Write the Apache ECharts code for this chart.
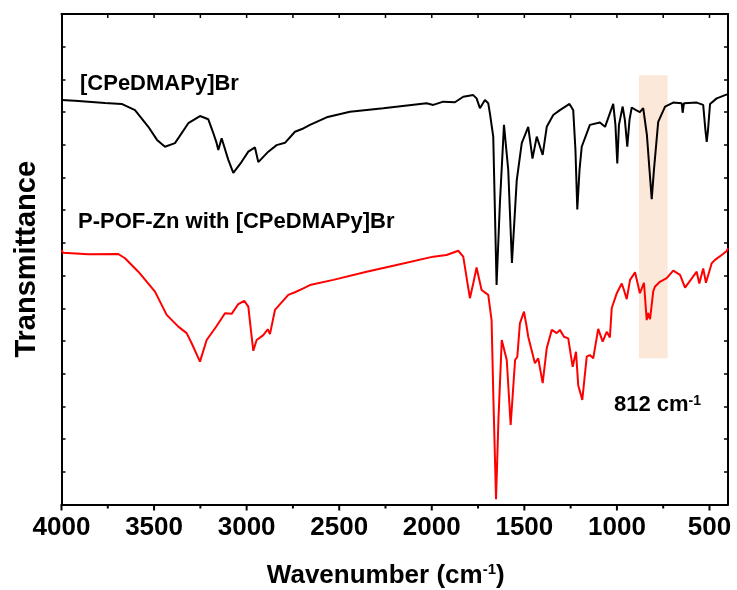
<!DOCTYPE html>
<html>
<head>
<meta charset="utf-8">
<script src="https://cdn.jsdelivr.net/npm/echarts@6/dist/echarts.min.js"></script>
<style>html,body{margin:0;padding:0;background:#fff;}#c{width:737px;height:590px;}</style>
</head>
<body>
<div id="c"></div>
<script>
// ---- data ----
// x axis runs from 4000 (left) to 400 cm-1 (right)
const xAxisStart = 4000, xAxisEnd = 400;
const xMajorTicks = [4000, 3500, 3000, 2500, 2000, 1500, 1000, 500];
const xMinorTicks = [3750, 3250, 2750, 2250, 1750, 1250, 750];
const xTopTicks = [3750, 3500, 3250, 3000, 2750, 2500, 2250, 2000, 1750, 1500, 1250, 1000, 750, 500];

const blackWavenumber = [4000,3927,3855,3765,3675,3603,3531,3484,3441,3387,3315,3252,3207,3182,3162,3153,3135,3099,3072,3027,2991,2955,2937,2883,2838,2793,2739,2694,2658,2568,2442,2262,2028,1992,1938,1875,1830,1776,1758,1740,1713,1695,1686,1668,1650,1632,1610,1587,1567,1541,1514,1479,1456,1433,1401,1379,1344,1308,1256,1236,1224,1214,1202,1190,1146,1092,1064,1020,1008,998,989,969,957,944,932,920,897,876,858,838,824,812,800,777,740,696,650,645,638,569,534,522,515,508,497,461,416,400];
const blackTransmittance = [12.37,12.35,12.32,12.28,12.25,12.06,11.55,11.15,10.94,11.05,11.66,11.88,11.78,11.39,11.05,10.84,11.20,10.54,10.14,10.48,10.79,10.92,10.47,10.79,10.99,11.06,11.40,11.50,11.61,11.84,12.01,12.12,12.27,12.22,12.32,12.30,12.47,12.52,12.42,12.12,12.37,12.27,11.96,11.25,6.71,9.22,11.61,10.23,7.39,9.92,11.05,11.55,10.58,11.25,10.69,11.55,11.91,12.06,12.25,12.06,10.84,9.02,10.23,10.94,11.61,11.68,11.55,12.25,11.61,10.43,11.61,12.17,11.76,10.94,11.76,12.14,12.06,12.00,12.12,11.30,10.23,9.34,10.23,11.70,12.17,12.29,12.27,11.98,12.27,12.29,12.22,11.45,11.09,11.45,12.25,12.42,12.52,12.55];

const redWavenumber = [4000,3992,3855,3693,3657,3585,3495,3432,3369,3324,3297,3252,3216,3162,3117,3081,3045,3013,2991,2977,2964,2946,2910,2886,2874,2847,2775,2739,2694,2658,2532,2352,2172,1992,1920,1857,1830,1810,1794,1778,1758,1731,1695,1677,1667,1653,1640,1622,1595,1574,1561,1550,1538,1524,1502,1489,1479,1443,1425,1401,1379,1352,1325,1308,1286,1263,1239,1221,1209,1187,1163,1146,1128,1101,1077,1055,1038,1028,1000,974,962,947,929,902,876,854,839,832,821,804,795,768,731,696,659,632,569,555,534,519,488,470,434,407,400];
const redTransmittance = [7.78,7.70,7.65,7.66,7.53,7.12,6.51,5.80,5.44,5.24,4.93,4.37,5.03,5.46,5.85,5.83,6.13,6.23,6.05,5.34,4.70,5.03,5.18,5.36,5.21,5.95,6.41,6.49,6.61,6.71,6.87,7.12,7.35,7.58,7.63,7.76,7.58,6.87,6.31,6.71,7.25,6.56,6.41,5.64,3.20,0.16,2.58,5.03,4.42,2.43,3.50,4.42,4.52,5.54,5.90,5.49,5.13,4.32,4.47,3.71,4.78,5.34,5.24,5.34,5.13,5.08,4.21,4.67,3.65,3.20,4.52,4.57,4.47,5.37,4.98,5.28,5.11,6.01,6.47,6.76,6.56,6.28,6.87,7.10,6.46,6.78,5.64,5.86,5.67,6.51,6.66,6.81,6.92,7.15,7.02,6.63,7.12,6.76,7.22,6.78,7.38,7.48,7.63,7.75,7.84];

const bandWavenumber = [881, 726];
const bandTransmittance = [4.47, 13.13];

const labelBlack = '[CPeDMAPy]Br';
const labelRed = 'P-POF-Zn with [CPeDMAPy]Br';
const peakLabel = '812 cm';

// ---- chart ----
// The descending wavenumber axis is drawn as a value axis over -wavenumber;
// labels show the absolute value.
const FONT = "'Liberation Sans', Arial, sans-serif";
const Y_MIN = 0, Y_MAX = 15;
const toAxis = w => -w;
const pair = (xs, ys) => xs.map((x, i) => [toAxis(x), ys[i]]);
const fromAxis = v => String(Math.abs(v));
const xMin = toAxis(xAxisStart), xMax = toAxis(xAxisEnd);

// tick marks for the wavenumber axes, placed with the axis scale (api.coord)
function tickSeries(values, yEdge, pxLen, width) {
  return {
    type: 'custom', coordinateSystem: 'cartesian2d', xAxisIndex: 0, yAxisIndex: 0,
    silent: true, clip: false, z: 6,
    encode: {x: 0, y: 1},
    data: values.map(w => [toAxis(w), yEdge]),
    renderItem: (params, api) => {
      const p = api.coord([api.value(0), api.value(1)]);
      return {
        type: 'line',
        shape: {x1: p[0], y1: p[1], x2: p[0], y2: p[1] + pxLen},
        style: {stroke: '#000', lineWidth: width}
      };
    }
  };
}

const chart = echarts.init(document.getElementById('c'), null, {renderer: 'canvas'});
chart.setOption({
  animation: false,
  backgroundColor: '#fff',
  grid: {left: 61.5, right: 9, top: 14, bottom: 85.5, containLabel: false, outerBoundsMode: 'none'},
  xAxis: [
    {
      type: 'value', position: 'bottom', min: xMin, max: xMax, interval: 500,
      name: '{a|Wavenumber (cm}{b|-1}{a|)}', nameLocation: 'middle', nameGap: 58,
      nameTextStyle: {
        padding: [0, 18, 0, 0],
        rich: {
          a: {fontFamily: FONT, fontWeight: 'bold', fontSize: 26, color: '#000'},
          b: {fontFamily: FONT, fontWeight: 'bold', fontSize: 15, color: '#000', verticalAlign: 'top'}
        }
      },
      axisLine: {show: true, onZero: false, lineStyle: {color: '#000', width: 2}},
      axisTick: {show: false},
      axisLabel: {show: true, showMaxLabel: false, formatter: fromAxis, margin: 10, fontFamily: FONT, fontWeight: 'bold', fontSize: 26, color: '#000'},
      splitLine: {show: false}
    },
    {
      type: 'value', position: 'top', min: xMin, max: xMax, interval: 250,
      axisLine: {show: true, onZero: false, lineStyle: {color: '#000', width: 2}},
      axisTick: {show: false},
      axisLabel: {show: false},
      splitLine: {show: false}
    }
  ],
  yAxis: [
    {
      type: 'value', position: 'left', min: Y_MIN, max: Y_MAX, interval: 1,
      name: 'Transmittance', nameLocation: 'middle', nameRotate: 90, nameGap: 20,
      nameTextStyle: {fontFamily: FONT, fontWeight: 'bold', fontSize: 29, color: '#000'},
      axisLine: {show: true, onZero: false, lineStyle: {color: '#000', width: 2}},
      axisTick: {show: true, inside: false, length: -4, lineStyle: {color: '#000', width: 1.5}},
      axisLabel: {show: false},
      splitLine: {show: false}
    },
    {
      type: 'value', position: 'right', min: Y_MIN, max: Y_MAX, interval: 1,
      axisLine: {show: true, onZero: false, lineStyle: {color: '#000', width: 2}},
      axisTick: {show: true, inside: false, length: -4, lineStyle: {color: '#000', width: 1.5}},
      axisLabel: {show: false},
      splitLine: {show: false}
    }
  ],
  series: [
    {
      type: 'line', xAxisIndex: 1, yAxisIndex: 0, data: [], z: 1, silent: true,
      markArea: {
        silent: true,
        itemStyle: {color: '#fce8d8', borderWidth: 0},
        data: [[{xAxis: toAxis(bandWavenumber[0]), yAxis: bandTransmittance[0]}, {xAxis: toAxis(bandWavenumber[1]), yAxis: bandTransmittance[1]}]]
      }
    },
    {
      name: labelBlack, type: 'line', xAxisIndex: 0, yAxisIndex: 0, z: 3,
      data: pair(blackWavenumber, blackTransmittance),
      showSymbol: false, symbol: 'none', smooth: false,
      lineStyle: {color: '#000', width: 2}
    },
    {
      name: labelRed, type: 'line', xAxisIndex: 0, yAxisIndex: 0, z: 4,
      data: pair(redWavenumber, redTransmittance),
      showSymbol: false, symbol: 'none', smooth: false,
      lineStyle: {color: '#ff0000', width: 2}
    },
    tickSeries(xMajorTicks, Y_MIN, 6, 2),
    tickSeries(xMinorTicks, Y_MIN, 4, 2),
    tickSeries(xTopTicks, Y_MAX, 4, 1.5)
  ],
  graphic: [
    {type: 'text', left: 80, top: 73, z: 10, style: {text: labelBlack, font: "bold 22px " + FONT, fill: '#000'}},
    {type: 'text', left: 78, top: 211, z: 10, style: {text: labelRed, font: "bold 22px " + FONT, fill: '#000'}},
    {type: 'text', left: 614, top: 394, z: 10, style: {
      text: '{a|' + peakLabel + '}{b|-1}',
      rich: {
        a: {fontFamily: FONT, fontWeight: 'bold', fontSize: 22, fill: '#000', color: '#000'},
        b: {fontFamily: FONT, fontWeight: 'bold', fontSize: 14, fill: '#000', color: '#000', verticalAlign: 'top'}
      }
    }}
  ]
});
</script>
</body>
</html>
